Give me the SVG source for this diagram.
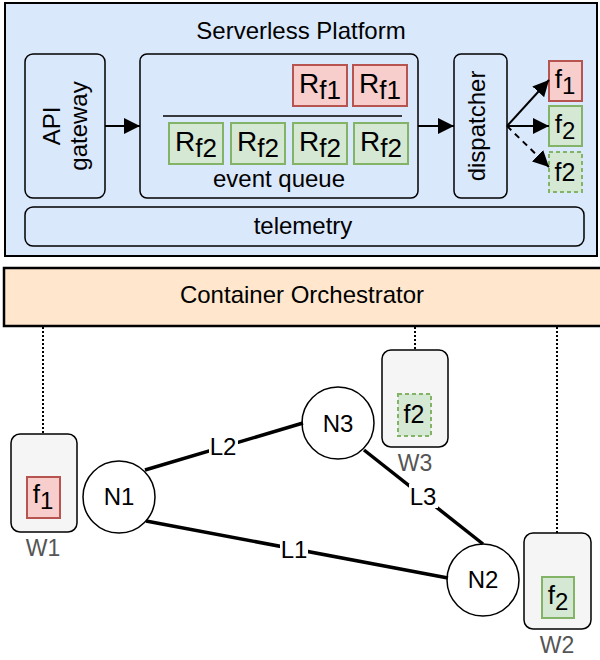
<svg xmlns="http://www.w3.org/2000/svg" width="600" height="660" viewBox="0 0 600 660">
<style>
text{font-family:"Liberation Sans",Arial,sans-serif;fill:#000;}
.t{font-size:24px;text-anchor:middle;}
.blk{fill:#dae8fc;stroke:#000;stroke-width:1.5;}
.red{fill:#f8cecc;stroke:#b85450;stroke-width:2;}
.grn{fill:#d5e8d4;stroke:#82b366;stroke-width:2;}
.grnd{fill:#d5e8d4;stroke:#82b366;stroke-width:2;stroke-dasharray:4 3;}
.wk{fill:#f5f5f5;stroke:#000;stroke-width:1.5;}
.nd{fill:#fff;stroke:#000;stroke-width:1.5;}
.rf{font-size:28px;text-anchor:middle;}
.sb{font-size:26px;}
.ff{font-size:26px;text-anchor:middle;}
.fs{font-size:24px;}
.wl{font-size:23px;text-anchor:middle;fill:#555;}
.arr{stroke:#000;stroke-width:2;fill:none;marker-end:url(#ah);}
.lnk{stroke:#000;stroke-width:3.5;fill:none;}
.dot{stroke:#000;stroke-width:2;stroke-dasharray:2 2;fill:none;}
</style>
<defs>
<marker id="ah" markerUnits="userSpaceOnUse" markerWidth="17" markerHeight="16" refX="16" refY="8" orient="auto">
<path d="M0,0 L16,8 L0,16 z" fill="#000"/>
</marker>
</defs>

<g id="platform">
<rect x="5" y="3" width="592" height="253" fill="#dae8fc" stroke="#000" stroke-width="2"/>
<text class="t" x="301" y="39">Serverless Platform</text>
</g>

<g id="api-gateway">
<rect class="blk" x="25" y="54" width="80" height="144" rx="8"/>
<text class="t" transform="translate(65,126) rotate(-90)"><tspan x="0" y="-5">API</tspan><tspan x="0" y="22">gateway</tspan></text>
</g>

<g id="event-queue">
<rect class="blk" x="140" y="54" width="278" height="144" rx="7"/>
<line x1="163" y1="116" x2="402" y2="116" stroke="#000" stroke-width="1.5"/>
<text class="t" x="279" y="187">event queue</text>
</g>

<g id="rf1-a"><rect class="red" x="293" y="65" width="54" height="41"/><text class="rf" x="320" y="93">R<tspan class="sb" dy="6">f1</tspan></text></g>
<g id="rf1-b"><rect class="red" x="353" y="65" width="54" height="41"/><text class="rf" x="380" y="93">R<tspan class="sb" dy="6">f1</tspan></text></g>
<g id="rf2-a"><rect class="grn" x="169" y="123" width="54" height="41"/><text class="rf" x="196" y="151">R<tspan class="sb" dy="6">f2</tspan></text></g>
<g id="rf2-b"><rect class="grn" x="231" y="123" width="54" height="41"/><text class="rf" x="258" y="151">R<tspan class="sb" dy="6">f2</tspan></text></g>
<g id="rf2-c"><rect class="grn" x="293" y="123" width="54" height="41"/><text class="rf" x="320" y="151">R<tspan class="sb" dy="6">f2</tspan></text></g>
<g id="rf2-d"><rect class="grn" x="354" y="123" width="54" height="41"/><text class="rf" x="381" y="151">R<tspan class="sb" dy="6">f2</tspan></text></g>

<g id="dispatcher">
<rect class="blk" x="454" y="54" width="53" height="144" rx="7"/>
<text class="t" transform="translate(485,126) rotate(-90)" x="0" y="0">dispatcher</text>
</g>

<g id="f1-out"><rect class="red" x="549" y="61" width="33" height="40"/><text class="ff" x="565" y="88">f<tspan class="fs" dy="6">1</tspan></text></g>
<g id="f2-out"><rect class="grn" x="549" y="106" width="33" height="40"/><text class="ff" x="565" y="133">f<tspan class="fs" dy="6">2</tspan></text></g>
<g id="f2-pending"><rect class="grnd" x="549" y="152" width="33" height="40"/><text class="ff" x="565" y="181" style="font-size:25px">f2</text></g>

<g id="telemetry">
<rect class="blk" x="25" y="207" width="559" height="39" rx="8"/>
<text class="t" x="303" y="234">telemetry</text>
</g>

<g id="orchestrator">
<rect x="4" y="268" width="620" height="58" fill="#ffe6cc" stroke="#000" stroke-width="2.5"/>
<text class="t" x="302" y="303">Container Orchestrator</text>
</g>

<g id="W1">
<rect class="wk" x="11" y="434" width="66" height="98" rx="9"/>
<rect class="red" x="27" y="477" width="33" height="41"/>
<text class="ff" x="43" y="503">f<tspan class="fs" dy="6">1</tspan></text>
<text class="wl" x="43" y="556">W1</text>
</g>
<g id="W3">
<rect class="wk" x="382" y="350" width="66" height="97" rx="9"/>
<rect class="grnd" x="398" y="394" width="33" height="42"/>
<text class="ff" x="414" y="423" style="font-size:25px">f2</text>
<text class="wl" x="415" y="471">W3</text>
</g>
<g id="W2">
<rect class="wk" x="524" y="533" width="67" height="96" rx="9"/>
<rect class="grn" x="542" y="577" width="32" height="41"/>
<text class="ff" x="558" y="604">f<tspan class="fs" dy="6">2</tspan></text>
<text class="wl" x="557" y="653">W2</text>
</g>

<g id="N1"><circle class="nd" cx="119" cy="497" r="36"/><text class="t" x="119" y="505">N1</text></g>
<g id="N3"><circle class="nd" cx="338" cy="423" r="36"/><text class="t" x="338" y="432">N3</text></g>
<g id="N2"><circle class="nd" cx="483" cy="580" r="36"/><text class="t" x="483" y="588">N2</text></g>

<g id="connectors">
<line class="arr" x1="105" y1="126" x2="140" y2="126"/>
<line class="arr" x1="418" y1="126" x2="454" y2="126"/>
<line class="arr" x1="507" y1="126" x2="549" y2="80"/>
<line class="arr" x1="507" y1="126" x2="549" y2="126"/>
<line class="arr" x1="507" y1="126" x2="549" y2="167" stroke-dasharray="6 5"/>
<line class="dot" x1="43" y1="327" x2="43" y2="434"/>
<line class="dot" x1="415" y1="327" x2="415" y2="350"/>
<line class="dot" x1="557" y1="327" x2="557" y2="533"/>
<line class="lnk" x1="145" y1="470" x2="303" y2="423"/>
<line class="lnk" x1="146" y1="521" x2="448" y2="578"/>
<line class="lnk" x1="364" y1="450" x2="483" y2="544"/>
<rect x="209" y="434" width="29" height="24" fill="#fff"/>
<text class="t" x="223" y="455">L2</text>
<rect x="280" y="537" width="28" height="24" fill="#fff"/>
<text class="t" x="294" y="558">L1</text>
<rect x="409" y="484" width="29" height="24" fill="#fff"/>
<text class="t" x="423" y="505">L3</text>
</g>
</svg>
